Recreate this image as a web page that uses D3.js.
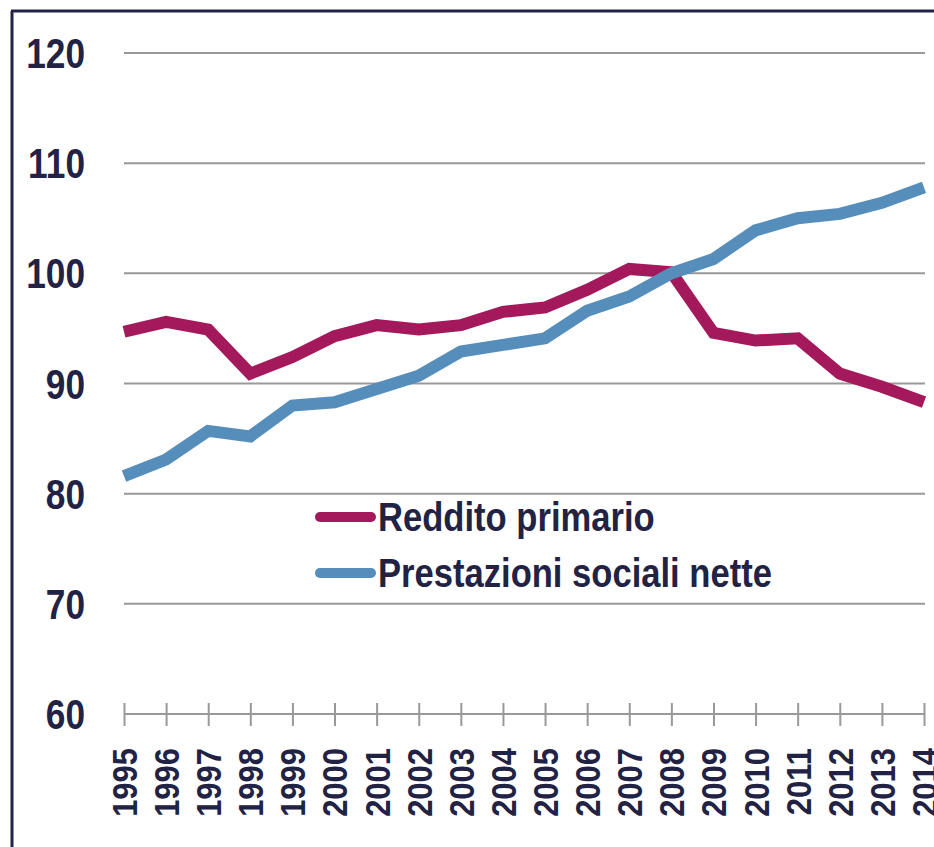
<!DOCTYPE html>
<html><head><meta charset="utf-8">
<script src="https://cdn.jsdelivr.net/npm/d3@7"></script>
<style>
html,body{margin:0;padding:0;background:#fff;}
svg{display:block;}
text{font-family:"Liberation Sans","Arial",sans-serif;font-weight:bold;fill:#222244;}
</style></head><body>
<svg id="c" width="934" height="847"></svg>
<script>
const years = ["1995","1996","1997","1998","1999","2000","2001","2002","2003","2004","2005","2006","2007","2008","2009","2010","2011","2012","2013","2014"];
const redditoPrimario = [94.7,95.6,94.9,90.9,92.4,94.3,95.3,94.9,95.3,96.5,96.9,98.5,100.4,100.1,94.6,93.9,94.1,90.9,89.7,88.3];
const prestazioniSociali = [81.6,83.1,85.7,85.2,88.0,88.3,89.5,90.7,92.9,93.5,94.1,96.6,97.9,100.0,101.3,103.9,105.0,105.4,106.4,107.8];
const yTicks = [60,70,80,90,100,110,120];
const seriesNames = ["Reddito primario","Prestazioni sociali nette"];
const seriesColors = ["#A3195B","#558DBB"];

const svg = d3.select("#c");
const x = d3.scalePoint().domain(years).range([124,924]);
const y = d3.scaleLinear().domain([60,120]).range([714,53]);

// frame
svg.append("line").attr("x1",12).attr("x2",12).attr("y1",11).attr("y2",847).attr("stroke","#23234a").attr("stroke-width",3);
svg.append("line").attr("x1",11).attr("x2",934).attr("y1",11).attr("y2",11).attr("stroke","#23234a").attr("stroke-width",3);

// gridlines
svg.append("g").selectAll("line").data(yTicks.filter(d=>d>60)).join("line")
  .attr("x1",124).attr("x2",925).attr("y1",d=>y(d)).attr("y2",d=>y(d))
  .attr("stroke","#999").attr("stroke-width",2);

// y labels
svg.append("g").selectAll("text").data(yTicks).join("text")
  .attr("transform",d=>`translate(85,${y(d)}) scale(0.84,1)`)
  .attr("dy","0.36em").attr("text-anchor","end")
  .attr("font-size",42).text(d=>d);

// x axis
const xAxis = d3.axisBottom(x).tickSize(12).tickSizeOuter(0).tickFormat("");
const gx = svg.append("g").attr("transform","translate(0,714)").call(xAxis);
gx.select(".domain").attr("stroke","#999").attr("stroke-width",2).attr("d","M124,0H925");
gx.selectAll(".tick line").attr("stroke","#999").attr("stroke-width",2).attr("y1",-11);

svg.append("g").selectAll("text").data(years).join("text")
  .attr("transform",d=>`translate(${x(d)},748) rotate(-90) scale(0.86,1)`)
  .attr("text-anchor","end").attr("dy","0.36em").attr("font-size",36).text(d=>d);

// lines
const line = d3.line().x((d,i)=>x(years[i])).y(d=>y(d));
[redditoPrimario,prestazioniSociali].forEach((s,k)=>{
  svg.append("path").datum(s).attr("d",line).attr("fill","none")
    .attr("stroke",seriesColors[k]).attr("stroke-width",12).attr("stroke-linejoin","miter");
});

// legend
const lg = svg.append("g");
seriesNames.forEach((n,k)=>{
  const yy = 517 + k*56;
  lg.append("line").attr("x1",320).attr("x2",371).attr("y1",yy).attr("y2",yy)
    .attr("stroke",seriesColors[k]).attr("stroke-width",10).attr("stroke-linecap","round");
  lg.append("text").attr("transform",`translate(378,${yy}) scale(0.865,1)`)
    .attr("dy","0.36em").attr("font-size",40).text(n);
});
</script></body></html>
